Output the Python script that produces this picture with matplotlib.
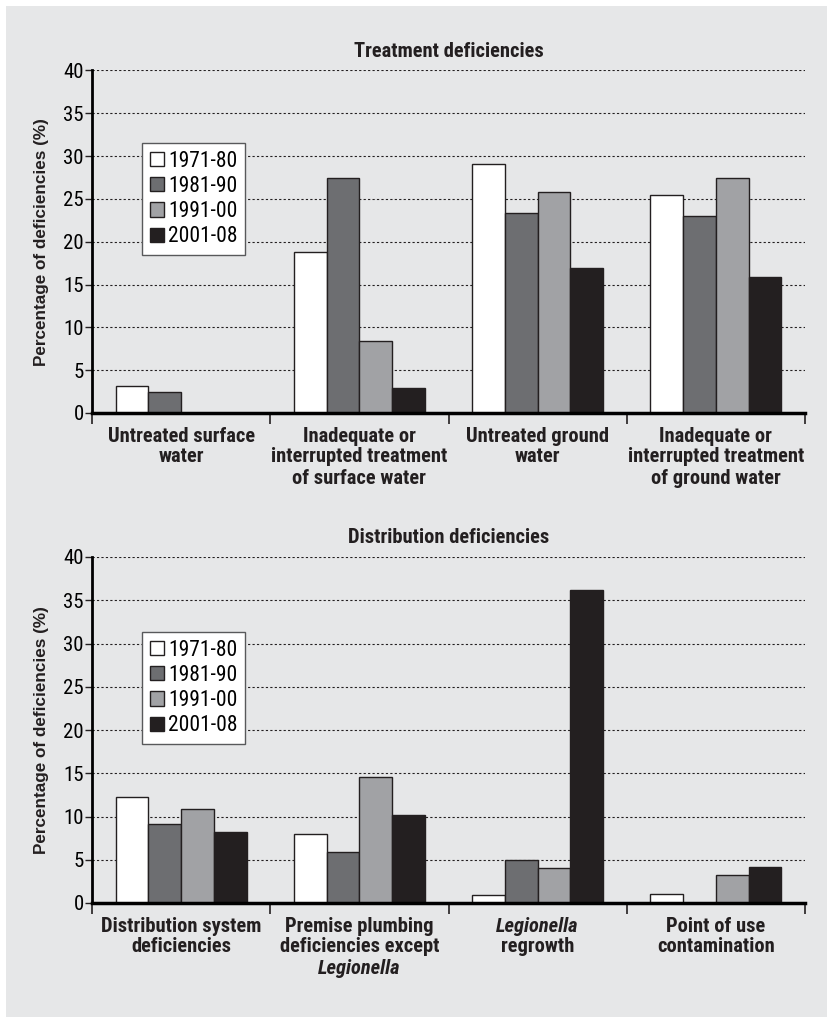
import matplotlib
matplotlib.use("Agg")
import matplotlib.pyplot as plt
from matplotlib.patches import Rectangle
import numpy as np

periods = ["1971-80", "1981-90", "1991-00", "2001-08"]
bar_colors = ["#ffffff", "#6d6e71", "#a1a2a5", "#231f20"]

treatment_categories = [
    [("Untreated surface", "normal"), ("water", "normal")],
    [("Inadequate or", "normal"), ("interrupted treatment", "normal"), ("of surface water", "normal")],
    [("Untreated ground", "normal"), ("water", "normal")],
    [("Inadequate or", "normal"), ("interrupted treatment", "normal"), ("of ground water", "normal")],
]
treatment_values = {
    "1971-80": [3.2, 18.8, 29.1, 25.5],
    "1981-90": [2.5, 27.4, 23.4, 23.0],
    "1991-00": [0.0, 8.4, 25.8, 27.4],
    "2001-08": [0.0, 2.9, 16.9, 15.9],
}

distribution_categories = [
    [("Distribution system", "normal"), ("deficiencies", "normal")],
    [("Premise plumbing", "normal"), ("deficiencies except", "normal"), ("Legionella", "italic")],
    [("Legionella", "italic"), ("regrowth", "normal")],
    [("Point of use", "normal"), ("contamination", "normal")],
]
distribution_values = {
    "1971-80": [12.2, 8.0, 0.9, 1.0],
    "1981-90": [9.1, 5.9, 5.0, 0.0],
    "1991-00": [10.9, 14.6, 4.0, 3.2],
    "2001-08": [8.2, 10.2, 36.2, 4.2],
}

yticks = [0, 5, 10, 15, 20, 25, 30, 35, 40]

NARROW = ["Roboto Condensed", "Archivo Narrow", "DejaVu Sans"]
W, H = 827, 1017


def draw_panel(fig, rect, title, categories, values, legend_top_px):
    ax = fig.add_axes(rect)
    ax.set_facecolor("none")
    n = len(categories)
    x = np.arange(n) + 0.5
    width = 0.184
    for k, period in enumerate(periods):
        offs = (k - 1.5) * width
        vals = values[period]
        ax.bar(x + offs, vals, width=width, color=bar_colors[k],
               edgecolor="#231f20", linewidth=1.0, zorder=3, label=period)

    ax.set_xlim(0, n)
    ax.set_ylim(0, 40)
    ax.set_yticks(yticks)
    ax.set_yticklabels([str(t) for t in yticks], fontfamily=NARROW, fontsize=15)
    for t in yticks[1:]:
        ax.axhline(t, color="#231f20", linewidth=0.8, linestyle=(0, (2, 2)), zorder=1)

    ax.set_xticks(np.arange(n + 1))
    ax.set_xticklabels([])
    ax.tick_params(axis="x", direction="out", length=8, width=1.2, color="#231f20")
    ax.tick_params(axis="y", direction="out", length=5, width=1.0, color="#231f20", pad=1)
    for side in ("top", "right"):
        ax.spines[side].set_visible(False)
    ax.spines["left"].set_linewidth(2.0)
    ax.spines["bottom"].set_linewidth(2.5)
    ax.spines["left"].set_zorder(4)
    ax.spines["bottom"].set_zorder(4)

    for i, lines in enumerate(categories):
        for j, (line, style) in enumerate(lines):
            ax.annotate(line, xy=(i + 0.5, 0), xycoords=("data", "axes fraction"),
                        xytext=(0, -23 - 21 * j), textcoords="offset pixels",
                        ha="center", va="center", fontsize=14.8, fontweight="bold",
                        fontstyle=style, fontfamily=NARROW, color="#231f20")

    ax.set_title(title, fontsize=14.8, fontweight="bold", fontfamily=NARROW,
                 color="#231f20", pad=10)
    ax.set_ylabel("Percentage of deficiencies (%)", fontsize=12.3, fontweight="bold",
                  fontfamily=["Liberation Sans", "DejaVu Sans"], color="#231f20", labelpad=10)

    leg = ax.legend(loc="upper left", bbox_to_anchor=(142 / W, 1 - legend_top_px / H),
                    bbox_transform=fig.transFigure, borderaxespad=0, fancybox=False,
                    framealpha=1, edgecolor="#58595b", handlelength=0.65,
                    handleheight=0.65, handletextpad=0.2, labelspacing=0.2,
                    borderpad=0.35, prop={"family": NARROW, "size": 15.5})
    leg.get_frame().set_linewidth(1.0)
    leg.set_zorder(5)
    return ax


fig = plt.figure(figsize=(W / 100, H / 100), dpi=100)
fig.patch.set_facecolor("white")
background = Rectangle((6 / W, 0), 1, 1 - 6 / H, transform=fig.transFigure,
                       facecolor="#e6e7e8", edgecolor="none", zorder=-10)
fig.add_artist(background)

draw_panel(fig, [92 / W, 1 - 413 / H, 713 / W, 342.5 / H], "Treatment deficiencies",
           treatment_categories, treatment_values, 143)
draw_panel(fig, [92 / W, 1 - 903 / H, 713 / W, 346 / H], "Distribution deficiencies",
           distribution_categories, distribution_values, 632)

fig.savefig("out.png", dpi=100, facecolor=fig.get_facecolor())
